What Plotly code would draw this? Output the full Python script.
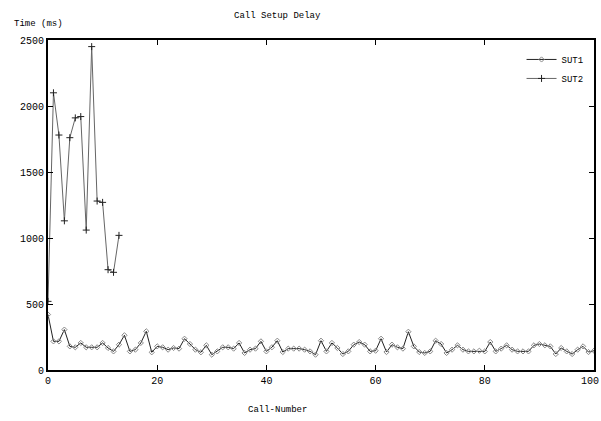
import plotly.graph_objects as go

call_number = list(range(0, 101))
sut1_delay = [
    420, 217, 217, 306, 179, 172, 205, 172, 172, 172,
    205, 167, 141, 192, 263, 141, 154, 205, 293, 134,
    179, 172, 154, 167, 162, 237, 197, 154, 134, 187,
    116, 141, 172, 172, 162, 205, 129, 154, 162, 217,
    141, 172, 222, 136, 162, 162, 162, 154, 141, 116,
    222, 141, 205, 167, 121, 141, 192, 212, 192, 141,
    146, 237, 136, 192, 172, 162, 290, 179, 136, 129,
    141, 222, 197, 129, 154, 187, 154, 141, 141, 146,
    141, 212, 141, 162, 187, 154, 141, 141, 141, 187,
    197, 187, 179, 121, 167, 141, 121, 154, 179, 136,
    146,
]
sut2_calls = list(range(0, 14))
sut2_delay = [520, 2100, 1780, 1130, 1760, 1910, 1920, 1060, 2450, 1280,
              1270, 760, 740, 1020]

x_ticks = [0, 20, 40, 60, 80, 100]
x_tick_labels = ["0", "20", "40", "60", "80", ""]   # "100" drawn as an edge-anchored label below
last_x_label = "100"
y_ticks = [0, 500, 1000, 1500, 2000, 2500]

FONT = "Liberation Mono, DejaVu Sans Mono, monospace"

fig = go.Figure()
fig.add_trace(go.Scatter(
    x=call_number, y=sut1_delay, name="SUT1", mode="lines+markers",
    line=dict(color="#222222", width=1),
    marker=dict(symbol="diamond-open", size=4, color="#888888", line=dict(width=1)),
))
fig.add_trace(go.Scatter(
    x=sut2_calls, y=sut2_delay, name="SUT2", mode="lines+markers",
    line=dict(color="#666666", width=1),
    marker=dict(symbol="cross-thin-open", size=5, color="#222222", line=dict(width=1, color="#222222")),
))

axis_common = dict(
    showline=True, linecolor="black", linewidth=2, mirror="allticks",
    ticks="inside", ticklen=5, tickcolor="black", tickwidth=1,
    showgrid=False, zeroline=False, automargin=False,
    ticklabeloverflow="allow",
    tickfont=dict(family=FONT, size=10, color="black"),
)
fig.update_xaxes(range=[0, 100], tickvals=x_ticks, ticktext=x_tick_labels, **axis_common)
fig.update_yaxes(range=[0, 2500], tickvals=y_ticks, ticktext=[str(v) for v in y_ticks], **axis_common)

fig.update_layout(
    width=601, height=421,
    margin=dict(l=48, r=7, t=40, b=51, autoexpand=False),
    plot_bgcolor="white", paper_bgcolor="white",
    font=dict(family=FONT, size=9, color="black"),
    showlegend=True,
    legend=dict(x=0.99, y=0.985, xanchor="right", yanchor="top",
                bgcolor="rgba(255,255,255,0)", borderwidth=0,
                font=dict(family=FONT, size=9, color="black"),
                itemwidth=30, tracegroupgap=0),
    annotations=[
        dict(text="Call Setup Delay", xref="paper", yref="paper",
             x=0.421, y=1.073, xanchor="center", yanchor="middle",
             showarrow=False, font=dict(family=FONT, size=9)),
        dict(text="Time (ms)", xref="paper", yref="paper",
             x=-0.066, y=1.048, xanchor="left", yanchor="middle",
             showarrow=False, font=dict(family=FONT, size=9)),
        dict(text="Call-Number", xref="paper", yref="paper",
             x=0.421, y=-0.121, xanchor="center", yanchor="middle",
             showarrow=False, font=dict(family=FONT, size=9)),
        dict(text=last_x_label, xref="paper", yref="paper",
             x=1.0, xshift=6, y=-0.034, xanchor="right", yanchor="middle",
             showarrow=False, borderpad=0, font=dict(family=FONT, size=10)),
    ],
)

fig.write_html("out.html", config={"displayModeBar": False},
               post_script="document.body.style.margin='0';document.body.style.padding='0';")
